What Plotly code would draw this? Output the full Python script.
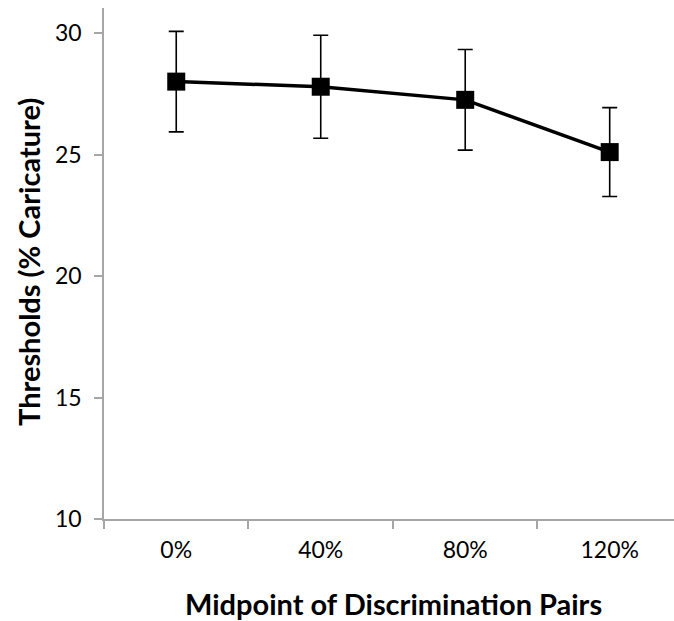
import plotly.graph_objects as go

categories = ["0%", "40%", "80%", "120%"]
thresholds = [28.0, 27.79, 27.25, 25.10]
errors = [2.07, 2.12, 2.07, 1.83]

FONT = "Lato, 'Open Sans', sans-serif"
AXIS_GREY = "#a6a6a6"

fig = go.Figure()
fig.add_trace(go.Scatter(
    x=categories,
    y=thresholds,
    mode="lines+markers",
    line=dict(color="black", width=3.5),
    marker=dict(symbol="square", size=18, color="black"),
    error_y=dict(type="data", array=errors, visible=True,
                 color="black", thickness=1.6, width=7.5),
    showlegend=False,
))

fig.update_layout(
    width=674, height=621,
    margin=dict(l=104, r=0, t=8, b=102),
    paper_bgcolor="white", plot_bgcolor="white",
    font=dict(family=FONT, size=22, color="black"),
    xaxis=dict(
        type="category", range=[-0.5, 3.445],
        showline=True, linecolor=AXIS_GREY, linewidth=1.5,
        ticks="outside", tickson="boundaries", ticklen=8, tickcolor=AXIS_GREY, tickwidth=1.5,
        showgrid=False, zeroline=False,
        tickfont=dict(size=23, family=FONT),
        ticklabelstandoff=10,
    ),
    yaxis=dict(
        range=[10, 31.03], tickvals=[10, 15, 20, 25, 30],
        showline=True, linecolor=AXIS_GREY, linewidth=1.5,
        ticks="outside", ticklen=8, tickcolor=AXIS_GREY, tickwidth=1.5,
        showgrid=False, zeroline=False,
        tickfont=dict(size=23, family=FONT),
        ticklabelstandoff=8,
    ),
    annotations=[
        dict(text="<b>Midpoint of Discrimination Pairs</b>", xref="paper", yref="paper",
             x=(393 - 104) / 570, y=-(603 - 519) / 511, xanchor="center", yanchor="middle",
             showarrow=False, font=dict(size=29, family=FONT)),
        dict(text="<b>Thresholds (% Caricature)</b>", xref="paper", yref="paper",
             x=-(104 - 28) / 570, y=(519 - 262) / 511, xanchor="center", yanchor="middle",
             textangle=-90, showarrow=False, font=dict(size=29, family=FONT)),
    ],
)

fig.write_html("out.html")
